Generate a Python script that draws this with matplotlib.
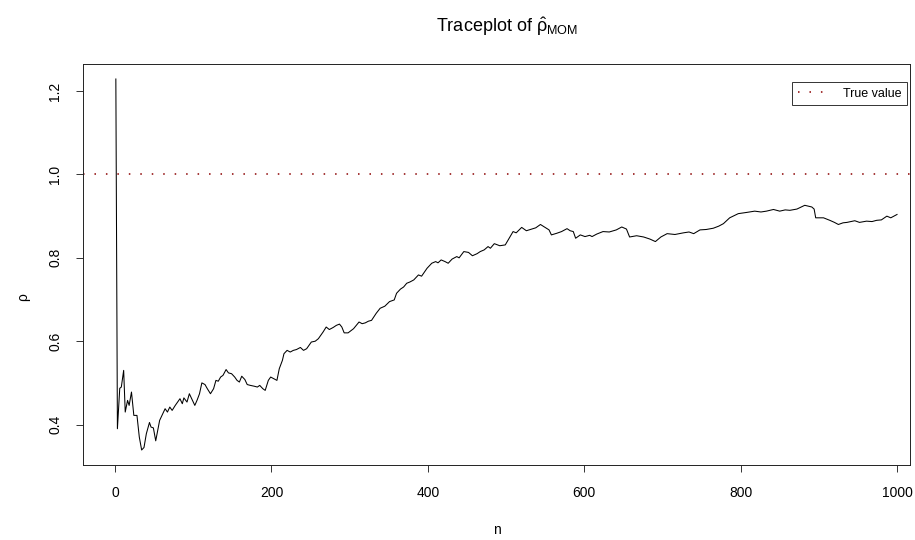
import numpy as np
import matplotlib
matplotlib.use("Agg")
import matplotlib.pyplot as plt

plt.rcParams['font.family'] = ['Liberation Sans', 'DejaVu Sans']
plt.rcParams['mathtext.fontset'] = 'custom'
plt.rcParams['mathtext.rm'] = 'Liberation Sans'
plt.rcParams['mathtext.it'] = 'Liberation Sans'

# running MOM estimate of rho against sample size n
n_obs = [1, 3, 6, 8, 11, 13, 16, 18, 21, 24, 28, 31, 34, 37, 40, 44, 46, 49, 52, 55,
         57, 60, 64, 67, 70, 73, 77, 80, 83, 86, 88, 92, 95, 98, 102, 105, 108, 111, 115, 118,
         122, 126, 129, 132, 135, 138, 142, 145, 149, 153, 156, 159, 162, 166, 169, 173, 178, 182, 185, 189,
         192, 196, 199, 203, 207, 210, 214, 216, 220, 224, 228, 232, 237, 241, 245, 251, 256, 260, 266, 270,
         274, 279, 283, 287, 290, 293, 298, 305, 312, 316, 320, 324, 328, 334, 339, 345, 351, 357, 360, 365,
         369, 373, 377, 382, 388, 392, 399, 405, 410, 413, 417, 422, 426, 431, 437, 440, 446, 452, 457, 463,
         467, 472, 477, 480, 485, 492, 499, 504, 509, 513, 520, 526, 533, 538, 544, 550, 555, 558, 565, 571,
         578, 582, 586, 589, 595, 601, 607, 610, 616, 624, 632, 641, 648, 654, 658, 667, 676, 684, 691, 698,
         706, 716, 727, 734, 740, 748, 756, 765, 772, 778, 786, 797, 808, 818, 826, 833, 842, 850, 857, 863,
         872, 882, 891, 894, 896, 906, 914, 920, 925, 931, 936, 946, 952, 961, 968, 974, 980, 987, 992, 1000]
rho_hat = [1.229, 0.390, 0.487, 0.490, 0.530, 0.430, 0.458, 0.446, 0.478, 0.422, 0.422, 0.370, 0.339, 0.345, 0.378, 0.405, 0.394, 0.392, 0.361, 0.390,
           0.410, 0.422, 0.438, 0.430, 0.442, 0.434, 0.446, 0.454, 0.462, 0.450, 0.464, 0.454, 0.474, 0.462, 0.446, 0.459, 0.474, 0.500, 0.496, 0.486,
           0.474, 0.486, 0.506, 0.504, 0.514, 0.518, 0.532, 0.524, 0.522, 0.514, 0.506, 0.502, 0.516, 0.508, 0.496, 0.494, 0.492, 0.490, 0.494, 0.486,
           0.482, 0.506, 0.514, 0.510, 0.506, 0.534, 0.554, 0.570, 0.578, 0.574, 0.578, 0.580, 0.585, 0.578, 0.582, 0.598, 0.600, 0.606, 0.622, 0.634,
           0.628, 0.633, 0.638, 0.641, 0.634, 0.620, 0.620, 0.630, 0.646, 0.642, 0.644, 0.648, 0.650, 0.667, 0.679, 0.684, 0.695, 0.699, 0.715, 0.725,
           0.730, 0.739, 0.742, 0.747, 0.759, 0.756, 0.775, 0.787, 0.791, 0.788, 0.795, 0.791, 0.787, 0.797, 0.803, 0.800, 0.815, 0.813, 0.805, 0.810,
           0.815, 0.819, 0.827, 0.823, 0.834, 0.829, 0.831, 0.847, 0.863, 0.860, 0.873, 0.865, 0.869, 0.872, 0.880, 0.873, 0.867, 0.855, 0.859, 0.863,
           0.870, 0.865, 0.863, 0.847, 0.855, 0.851, 0.854, 0.851, 0.857, 0.863, 0.862, 0.867, 0.874, 0.869, 0.850, 0.853, 0.850, 0.845, 0.839, 0.850,
           0.858, 0.856, 0.860, 0.862, 0.858, 0.867, 0.868, 0.871, 0.876, 0.882, 0.896, 0.906, 0.909, 0.912, 0.910, 0.912, 0.916, 0.912, 0.915, 0.914,
           0.917, 0.926, 0.922, 0.917, 0.896, 0.896, 0.890, 0.885, 0.880, 0.884, 0.885, 0.889, 0.885, 0.888, 0.887, 0.890, 0.891, 0.900, 0.896, 0.904]
true_rho = 1.0

W, H = 915, 540
fig = plt.figure(figsize=(W / 100, H / 100), dpi=100)
ax = fig.add_axes([83 / W, 75 / H, 827 / W, 401 / H])

ax.plot(n_obs, rho_hat, color='black', lw=0.75)
ax.axhline(true_rho, color='#8b0000', lw=1.1, linestyle=(0, (1, 6.5)), label='True value')

ax.set_xlim(-41, 1016.6)
ax.set_ylim(0.303, 1.265)
ax.set_xticks([0, 200, 400, 600, 800, 1000])
ax.set_yticks([0.4, 0.6, 0.8, 1.0, 1.2])
ax.set_yticklabels(['0.4', '0.6', '0.8', '1.0', '1.2'], rotation=90, va='center')
ax.tick_params(direction='out', length=5, width=0.7, labelsize=10, color='#333333')
ax.tick_params(axis='x', pad=10)
ax.tick_params(axis='y', pad=10)
for sp in ax.spines.values():
    sp.set_linewidth(0.7)
    sp.set_color('#222222')

fig.text(497 / W, 1 - 530 / H, 'n', fontsize=10, ha='center', va='center')
fig.text(23 / W, 1 - 297 / H, 'ρ', fontsize=10, ha='center', va='center', rotation=90)
fig.text(507 / W, 1 - 32 / H, r'Traceplot of $\hat{\rho}_{\mathrm{MOM}}$',
         fontsize=13, ha='center', va='baseline')

leg = ax.legend(loc='upper right', bbox_to_anchor=(907 / W, 1 - 82 / H),
                bbox_transform=fig.transFigure, fontsize=9, frameon=True,
                fancybox=False, borderaxespad=0, handlelength=2.2,
                borderpad=0.45, handletextpad=1.4)
leg.get_frame().set_edgecolor('black')
leg.get_frame().set_linewidth(0.7)

fig.savefig('out.png', dpi=100)
